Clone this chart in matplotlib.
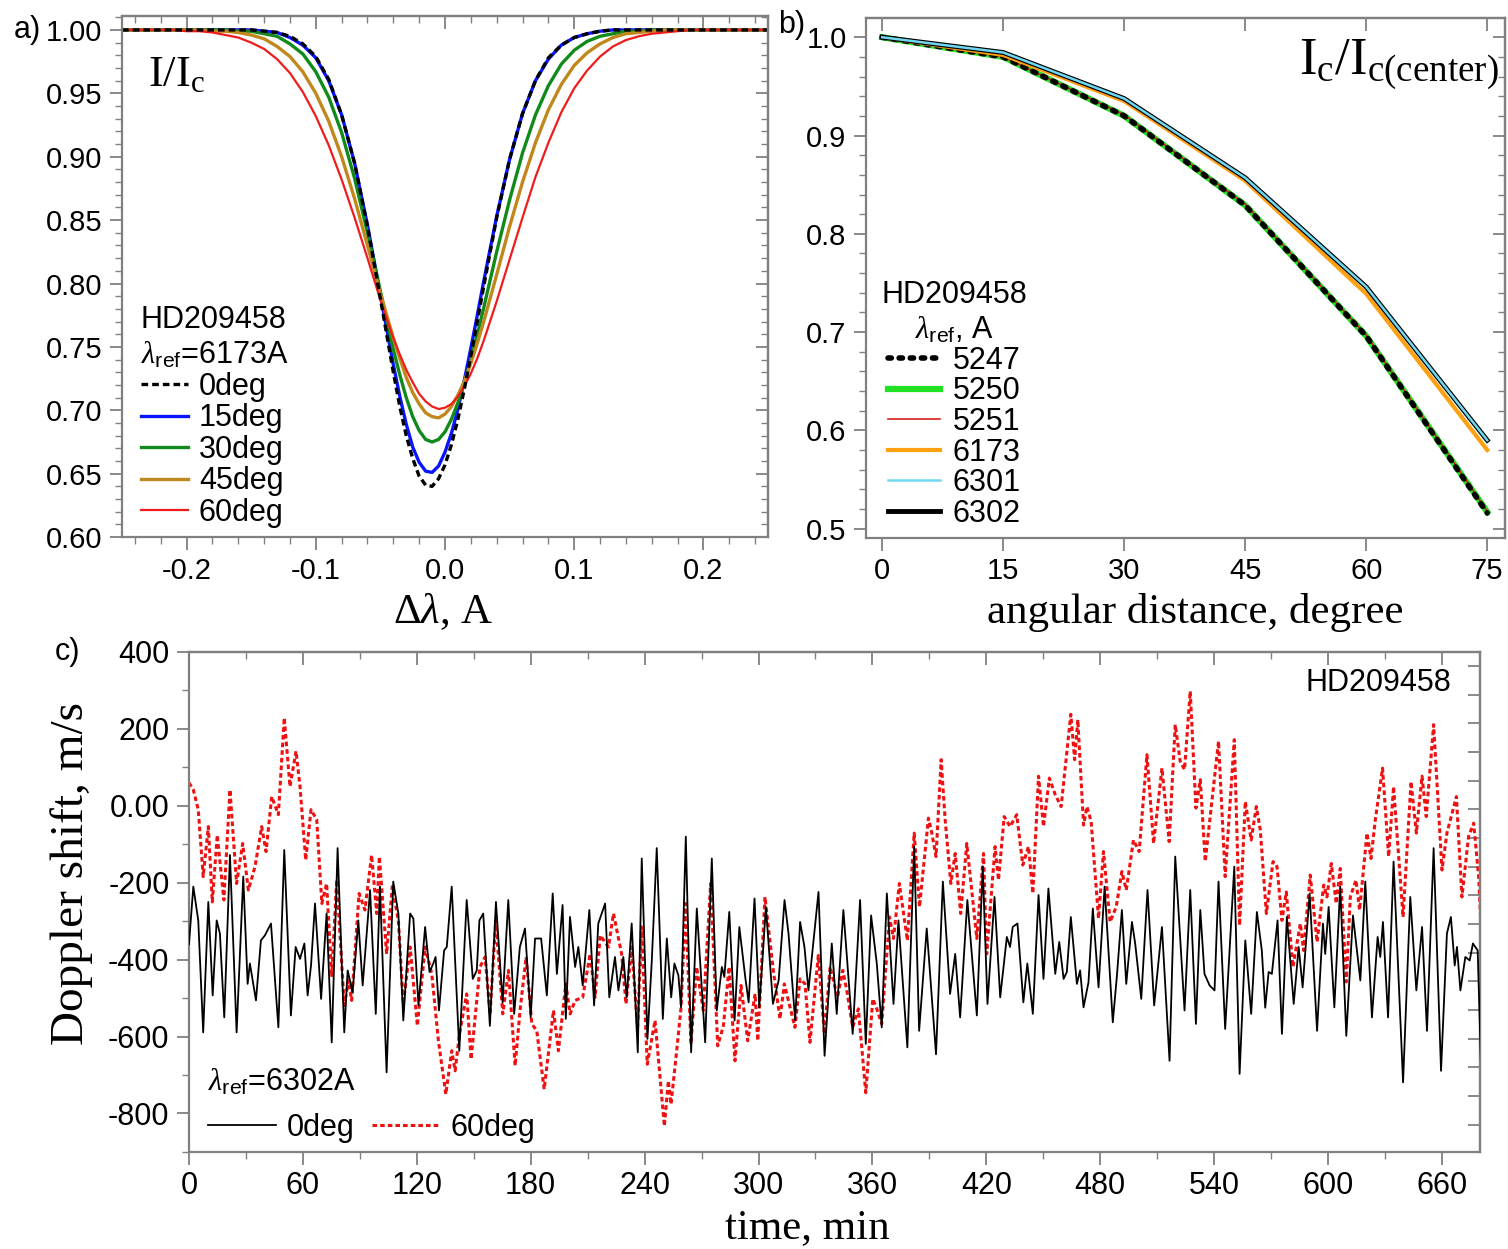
import numpy as np
import matplotlib
matplotlib.use("Agg")
import matplotlib.pyplot as plt
from matplotlib.ticker import MultipleLocator, FormatStrFormatter, FuncFormatter

# ---------------- panel a: line profiles, 6173 A ----------------
dlam = np.linspace(-0.25, 0.25, 51)
prof_0deg = [1.000] * 11 + [
    0.999, 0.998, 0.995, 0.989, 0.979, 0.961, 0.933, 0.895, 0.845, 0.788,
    0.730, 0.680, 0.648, 0.640, 0.657, 0.693, 0.743, 0.798, 0.852, 0.898,
    0.934, 0.960, 0.978, 0.988, 0.994, 0.997, 0.999] + [1.000] * 13
prof_15deg = [1.000] * 11 + [
    0.999, 0.998, 0.994, 0.988, 0.978, 0.960, 0.933, 0.895, 0.846, 0.791,
    0.736, 0.689, 0.659, 0.651, 0.667, 0.701, 0.749, 0.802, 0.853, 0.898,
    0.934, 0.960, 0.977, 0.988, 0.994, 0.997, 0.999] + [1.000] * 13
prof_30deg = [1.000] * 8 + [
    1.000, 0.999, 0.999, 0.997, 0.995, 0.989, 0.981, 0.967, 0.947, 0.919,
    0.883, 0.840, 0.794, 0.748, 0.710, 0.684, 0.675, 0.683, 0.706, 0.740,
    0.781, 0.825, 0.866, 0.903, 0.933, 0.956, 0.973, 0.984, 0.991, 0.995,
    0.997, 0.999, 0.999] + [1.000] * 10
prof_45deg = [1.000] * 6 + [
    1.000, 0.999, 0.999, 0.998, 0.996, 0.993, 0.987, 0.979, 0.967, 0.950,
    0.928, 0.900, 0.867, 0.830, 0.792, 0.757, 0.726, 0.705, 0.695, 0.697,
    0.712, 0.737, 0.770, 0.807, 0.845, 0.880, 0.911, 0.937, 0.957, 0.972,
    0.982, 0.989, 0.994, 0.997, 0.998, 0.999, 1.000] + [1.000] * 8
prof_60deg = [1.000] * 5 + [
    0.999, 0.999, 0.998, 0.996, 0.994, 0.990, 0.985, 0.977, 0.966, 0.951,
    0.932, 0.909, 0.882, 0.852, 0.820, 0.787, 0.757, 0.732, 0.713, 0.703,
    0.702, 0.711, 0.729, 0.755, 0.786, 0.819, 0.852, 0.884, 0.911, 0.935,
    0.954, 0.968, 0.979, 0.987, 0.992, 0.995, 0.997, 0.998, 0.999, 1.000] + [1.000] * 6

# extra readings in the line core (half-step)
dlam_core = [-0.035, -0.025, -0.015, -0.005, 0.005, 0.015, 0.025]
core_0deg = [0.703, 0.662, 0.641, 0.646, 0.673, 0.717, 0.770]
core_15deg = [0.711, 0.671, 0.652, 0.656, 0.682, 0.724, 0.775]
core_30deg = [0.728, 0.695, 0.677, 0.677, 0.693, 0.721, 0.760]
core_45deg = [0.741, 0.714, 0.698, 0.694, 0.703, 0.723, 0.753]
core_60deg = [0.744, 0.722, 0.707, 0.701, 0.705, 0.719, 0.741]

# ---------------- panel b: continuum centre-to-limb ----------------
angles = [0, 15, 30, 45, 60, 75]
ic_5247 = [1.000, 0.980, 0.920, 0.829, 0.696, 0.516]
ic_5250 = [1.000, 0.980, 0.920, 0.829, 0.696, 0.517]
ic_5251 = [1.000, 0.980, 0.921, 0.830, 0.697, 0.518]
ic_6173 = [1.000, 0.982, 0.935, 0.854, 0.739, 0.580]
ic_6301 = [1.000, 0.9845, 0.9376, 0.857, 0.746, 0.590]
ic_6302 = [1.000, 0.9845, 0.9376, 0.857, 0.746, 0.590]

# ---------------- panel c: Doppler shift time series, 6302 A ----------------
t_0deg = [
    0, 2.3, 4.9, 7.5, 10.2, 12.5, 14.6, 16.3, 18.6, 21.6, 25.1, 28.6, 30.9, 32.1, 35.3,
    37.9, 40.0, 43.2, 47.1, 50.2, 53.7, 56.2, 58.5, 60.8, 62.5, 64.3, 66.4, 69.6, 72.5,
    75.2, 78.3, 81.8, 83.6, 86.2, 89.2, 91.5, 95.4, 98.4, 100.6, 104.1, 107.6, 110.3,
    112.9, 116.5, 118.2, 120.9, 124.4, 126.7, 128.7, 129.9, 131.7, 134.4, 135.8, 138.4,
    142.4, 146.3, 149.5, 151.6, 153.0, 155.0, 158.5, 161.7, 165.2, 168.2, 171.3, 174.3,
    177.0, 180.0, 182.3, 185.5, 188.5, 191.6, 193.8, 196.8, 198.5, 200.7, 203.4, 205.1,
    207.4, 210.9, 213.4, 215.6, 219.2, 221.4, 224.4, 226.2, 228.8, 230.6, 233.2, 236.4,
    238.5, 241.5, 243.8, 246.4, 249.6, 251.7, 254.0, 255.7, 257.8, 259.2, 261.7, 264.5,
    267.5, 271.9, 275.4, 278.0, 280.7, 282.0, 284.6, 287.4, 289.9, 293.0, 294.8, 297.9,
    300.4, 303.9, 307.6, 310.6, 313.7, 315.8, 319.3, 321.9, 324.2, 326.3, 331.6, 334.8,
    338.6, 341.2, 344.7, 349.6, 353.5, 356.5, 359.3, 362.3, 364.9, 367.6, 371.1, 373.7,
    378.4, 382.0, 384.6, 388.6, 393.5, 397.1, 400.9, 403.6, 406.2, 410.0, 415.0, 418.1,
    420.6, 424.3, 427.3, 430.8, 432.5, 433.9, 436.4, 439.5, 441.6, 444.5, 447.5, 450.1,
    452.7, 456.3, 458.4, 460.7, 462.4, 464.5, 467.7, 469.4, 471.2, 473.8, 476.1, 479.1,
    482.3, 486.6, 488.8, 491.4, 493.7, 496.7, 498.4, 501.6, 504.9, 508.4, 512.5, 516.5,
    519.5, 524.4, 527.4, 530.4, 532.7, 534.9, 537.6, 540.2, 542.3, 545.8, 550.6, 553.4,
    556.4, 559.5, 562.5, 565.1, 566.9, 568.7, 570.4, 573.4, 575.7, 578.3, 581.9, 584.5,
    586.6, 590.3, 594.2, 597.3, 598.5, 600.3, 603.3, 606.4, 609.6, 613.1, 617.0, 619.6,
    623.1, 626.1, 627.5, 628.9, 631.6, 634.5, 639.5, 643.3, 646.5, 649.5, 652.1, 655.6,
    659.5, 662.6, 664.7, 666.7, 667.9, 669.7, 672.3, 674.6, 676.3, 678.8, 680.5]
v_0deg = [
    -360, -210, -298, -589, -250, -493, -298, -332, -550, -128, -589, -184, -463, -410, -506,
    -350, -337, -306, -576, -115, -545, -367, -398, -358, -493, -415, -254, -502, -280,
    -615, -110, -589, -428, -485, -298, -467, -219, -541, -210, -693, -197, -280,
    -558, -280, -293, -519, -315, -432, -410, -393, -532, -376, -367, -210,
    -637, -245, -450, -428, -298, -280, -572, -250, -511, -245, -541, -367,
    -319, -550, -345, -345, -493, -228, -437, -258, -554, -289, -419, -367,
    -467, -271, -519, -306, -254, -498, -393, -480, -393, -498, -306, -641,
    -137, -606, -402, -110, -554, -345, -498, -410, -441, -524, -80, -641,
    -267, -615, -137, -532, -419, -445, -276, -558, -315, -445, -511, -241,
    -524, -263, -515, -454, -245, -332, -558, -302, -367, -480, -224, -650,
    -358, -541, -271, -593, -245, -619, -285, -410, -576, -228, -515, -298,
    -628, -106, -585, -319, -646, -197, -489, -385, -550, -245, -545, -158,
    -515, -237, -498, -341, -367, -315, -306, -511, -410, -541, -232, -450,
    -215, -437, -354, -450, -432, -289, -463, -428, -524, -459, -267, -472,
    -210, -563, -441, -271, -463, -302, -358, -502, -219, -519, -315, -663,
    -132, -532, -219, -567, -271, -437, -467, -480, -197, -580, -158, -697,
    -350, -541, -276, -376, -525, -432, -437, -298, -593, -289, -515, -367,
    -472, -228, -585, -306, -385, -263, -524, -210, -598, -285, -454, -197,
    -550, -341, -393, -302, -550, -145, -719, -237, -480, -315, -585, -110,
    -689, -332, -289, -415, -367, -480, -393, -402, -358, -376, -665]

t_60deg = [
    0, 2.3, 4.9, 7.5, 10.2, 12.3, 14.9, 18.4, 21.6, 25.1, 28.3, 31.3, 34.8, 38.3, 40.6,
    43.6, 47.1, 50.2, 53.2, 56.4, 58.5, 61.5, 64.3, 67.3, 70.0, 72.5, 75.2, 77.8, 81.8,
    84.0, 85.7, 89.6, 92.7, 96.2, 98.9, 100.3, 104.1, 107.1, 110.3, 112.9, 116.5, 120.3,
    124.4, 127.9, 131.4, 135.3, 138.4, 140.2, 142.5, 146.3, 148.6, 153.3, 156.0, 158.6,
    161.6, 165.3, 168.3, 171.8, 174.4, 177.6, 180.6, 183.2, 187.1, 192.0, 194.6, 198.5,
    200.8, 203.4, 207.4, 211.3, 213.9, 216.6, 221.0, 223.6, 227.9, 230.2, 233.2, 236.3,
    238.4, 241.4, 245.5, 250.4, 252.5, 253.9, 256.9, 259.2, 261.6, 264.4, 267.4, 270.9,
    274.8, 278.5, 281.5, 284.5, 287.6, 290.8, 294.3, 298.2, 299.6, 303.4, 307.8, 311.3,
    313.6, 319.2, 321.9, 324.5, 327.1, 331.5, 334.7, 337.7, 341.6, 344.4, 346.5, 349.6,
    352.6, 356.5, 360.2, 362.3, 364.9, 369.0, 371.1, 374.2, 378.4, 382.0, 384.8, 389.5,
    391.3, 393.5, 396.2, 398.3, 401.3, 403.6, 406.5, 409.7, 415.0, 418.5, 420.2, 424.6,
    426.4, 429.4, 432.5, 436.0, 439.2, 442.2, 444.5, 447.5, 450.1, 453.2, 456.3, 459.4,
    464.5, 466.5, 468.2, 471.2, 473.0, 475.2, 479.1, 481.7, 485.2, 488.4, 491.4, 493.7,
    497.5, 500.5, 504.6, 508.1, 512.5, 516.3, 519.5, 522.1, 524.4, 527.4, 530.4, 532.7,
    535.3, 542.3, 545.8, 550.6, 553.4, 556.4, 559.5, 562.2, 564.3, 567.5, 571.0, 573.1,
    575.7, 578.0, 581.5, 585.4, 587.1, 590.6, 594.2, 597.7, 599.4, 601.7, 604.3, 606.4,
    609.6, 611.7, 614.7, 616.6, 620.5, 622.6, 624.9, 628.7, 631.9, 634.5, 639.5, 643.7,
    646.5, 649.5, 651.7, 655.6, 660.0, 662.6, 667.6, 670.5, 674.0, 676.7, 679.3, 681.1]
v_60deg = [
    60, 42, -10, -184, -54, -250, -76, -245, 42, -202, -98, -219, -158, -54, -119,
    24, -23, 229, 50, 142, 50, -141, -10, -36, -254, -202, -445, -193, -519,
    -454, -506, -228, -271, -128, -280, -132, -385, -210, -298, -515, -367, -572,
    -367, -437, -611, -750, -637, -689, -593, -489, -659, -419, -393, -541,
    -298, -541, -428, -676, -532, -393, -567, -585, -737, -532, -637, -463,
    -541, -506, -498, -385, -498, -337, -367, -280, -385, -515, -367, -576,
    -315, -672, -558, -833, -715, -776, -637, -524, -254, -619, -419, -532,
    -202, -624, -572, -419, -663, -467, -611, -489, -611, -237, -428, -554,
    -463, -576, -450, -463, -615, -389, -593, -419, -498, -428, -480, -576,
    -528, -746, -502, -528, -567, -289, -345, -202, -350, -71, -263, -32,
    -71, -132, 120, -36, -202, -124, -280, -98, -345, -124, -385, -106,
    -193, -28, -54, -23, -154, -106, -228, 77, -54, 72, 29, -2,
    238, 120, 224, -50, -2, -41, -293, -119, -302, -263, -171, -219,
    -89, -119, 133, -98, 98, -93, 211, 116, 94, 298, -6, 68,
    -145, 168, -184, 172, -311, 11, -89, -2, -63, -280, -145, -158,
    -298, -224, -419, -306, -376, -180, -354, -206, -237, -150, -254, -163,
    -458, -237, -193, -271, -71, -137, -36, 98, -132, 50, -289, 63,
    -71, 77, -28, 211, -167, -71, 24, -237, -80, -45, -184, -367]

GRAY = "#808080"

plt.rcParams.update({
    "font.family": ["Liberation Sans", "DejaVu Sans"],
    "mathtext.fontset": "custom",
    "mathtext.rm": "Liberation Serif",
    "mathtext.it": "Liberation Serif:italic",
    "mathtext.sf": "Liberation Sans",
    "axes.unicode_minus": False,
})
SERIF = ["Liberation Serif", "DejaVu Serif"]


def frame(ax, xmaj, xmin, ymaj, ymin, right_funcs=None, right_step=None):
    """gray box, ticks out on left/bottom and in on top/right"""
    ax.xaxis.set_major_locator(MultipleLocator(xmaj))
    ax.yaxis.set_major_locator(MultipleLocator(ymaj))
    if xmin:
        ax.xaxis.set_minor_locator(MultipleLocator(xmin))
    if ymin:
        ax.yaxis.set_minor_locator(MultipleLocator(ymin))
    ax.tick_params(which="both", direction="out", color=GRAY, labelcolor="black",
                   labelsize=21, pad=5)
    ax.tick_params(which="major", length=9, width=1.3)
    ax.tick_params(which="minor", length=5, width=1.0)
    for sp in ax.spines.values():
        sp.set_color(GRAY)
        sp.set_linewidth(1.6)

    top = ax.secondary_xaxis("top")
    top.xaxis.set_major_locator(MultipleLocator(xmaj))
    if xmin:
        top.xaxis.set_minor_locator(MultipleLocator(xmin))
    if right_funcs is not None:
        right = ax.secondary_yaxis("right", functions=right_funcs)
        right.yaxis.set_major_locator(MultipleLocator(right_step))
    else:
        right = ax.secondary_yaxis("right")
        right.yaxis.set_major_locator(MultipleLocator(ymaj))
        if ymin:
            right.yaxis.set_minor_locator(MultipleLocator(ymin))
    for sec in (top, right):
        sec.tick_params(which="both", direction="in", color=GRAY,
                        labeltop=False, labelright=False)
        sec.tick_params(which="major", length=9, width=1.3)
        sec.tick_params(which="minor", length=5, width=1.0)
        for sp in sec.spines.values():
            sp.set_color(GRAY)
            sp.set_linewidth(1.6)


fig = plt.figure(figsize=(15.08, 12.49), dpi=100)

# ---------- a ----------
x_all = np.concatenate([dlam, dlam_core])
order = np.argsort(x_all)
x_all = x_all[order]


def merged(prof, core):
    return np.concatenate([prof, core])[order]


ax_a = fig.add_axes([0.0809, 0.570, 0.4284, 0.4172])
l15, = ax_a.plot(x_all, merged(prof_15deg, core_15deg), color="#0a14ff", lw=2.4, label="15deg")
l30, = ax_a.plot(x_all, merged(prof_30deg, core_30deg), color="#118a1c", lw=2.4, label="30deg")
l45, = ax_a.plot(x_all, merged(prof_45deg, core_45deg), color="#c0881c", lw=2.4, label="45deg")
l60, = ax_a.plot(x_all, merged(prof_60deg, core_60deg), color="#f01c1c", lw=1.6, label="60deg")
l0, = ax_a.plot(x_all, merged(prof_0deg, core_0deg), color="black", lw=2.4,
                ls=(0, (2, 1.2)), label="0deg")
ax_a.set_xlim(-0.25, 0.25)
ax_a.set_ylim(0.60, 1.011)
frame(ax_a, 0.1, 0.02, 0.05, 0.01)
ax_a.yaxis.set_major_formatter(FormatStrFormatter("%.2f"))
ax_a.xaxis.set_major_formatter(FormatStrFormatter("%.1f"))
ax_a.set_xlabel(r"$\mathrm{\Delta}\lambda$, A", family=SERIF, fontsize=31)
ax_a.xaxis.set_label_coords(0.497, -0.104)
ax_a.text(0.04, 0.887, r"I/I$_\mathrm{c}$", transform=ax_a.transAxes, family=SERIF,
          fontsize=32, va="center", ha="left")
ax_a.legend(handles=[l0, l15, l30, l45, l60], loc="lower left",
            bbox_to_anchor=(0.015, 0.0), frameon=False, fontsize=22,
            title="HD209458\n$\\lambda_{\\mathsf{ref}}$=6173A", title_fontsize=22,
            alignment="left", handlelength=1.55, handletextpad=0.35,
            labelspacing=0.05, borderpad=0.2, borderaxespad=0.1)
fig.text(0.009, 0.976, "a)", fontsize=22, va="center")

# ---------- b ----------
ax_b = fig.add_axes([0.5743, 0.5693, 0.4237, 0.4163])
b1, = ax_b.plot(angles, ic_5250, color="#22e022", lw=4.5, label="5250")
b2, = ax_b.plot(angles, ic_5251, color="#d42020", lw=1.2, label="5251")
b0, = ax_b.plot(angles, ic_5247, color="black", lw=4.0, ls=(0, (0.6, 1.4)),
                dash_capstyle="round", label="5247")
b3, = ax_b.plot(angles, ic_6173, color="#ffa010", lw=3.0, label="6173")
b5, = ax_b.plot(angles, ic_6302, color="black", lw=3.5, label="6302")
b4, = ax_b.plot(angles, ic_6301, color="#70d8f0", lw=1.8, label="6301")
ax_b.set_xlim(-2, 77.2)
ax_b.set_ylim(0.4906, 1.0196)
frame(ax_b, 15, None, 0.1, 0.02)
ax_b.yaxis.set_major_formatter(FormatStrFormatter("%.1f"))
ax_b.set_xlabel("angular distance, degree", family=SERIF, fontsize=31)
ax_b.xaxis.set_label_coords(0.515, -0.106)
ax_b.text(0.990, 0.91, r"I$_\mathrm{c}$/I$_\mathrm{c(center)}$", transform=ax_b.transAxes,
          family=SERIF, fontsize=38, va="center", ha="right")
leg_b = ax_b.legend(handles=[b0, b1, b2, b3, b4, b5], loc="lower left",
                    bbox_to_anchor=(0.01, 0.0), frameon=False, fontsize=22,
                    title="HD209458\n$\\lambda_{\\mathsf{ref}}$, A", title_fontsize=22,
                    handlelength=1.7, handletextpad=0.4, labelspacing=0.02,
                    borderpad=0.2, borderaxespad=0.1)
leg_b.get_title().set_multialignment("center")
fig.text(0.516, 0.980, "b)", fontsize=22, va="center")

# ---------- c ----------
ax_c = fig.add_axes([0.1253, 0.0777, 0.8561, 0.4003])
c60, = ax_c.plot(t_60deg, v_60deg, color="#ee1111", lw=2.2, ls=(0, (1.5, 1.0)),
                 label="60deg", zorder=2)
c0, = ax_c.plot(t_0deg, v_0deg, color="black", lw=1.3, label="0deg", zorder=3)
ax_c.set_xlim(0, 680)
ax_c.set_ylim(-900, 400)
frame(ax_c, 60, 30, 200, 100,
      right_funcs=(lambda v: (v - 364.0) / 74.6, lambda u: u * 74.6 + 364.0),
      right_step=1)
ax_c.yaxis.set_major_formatter(
    FuncFormatter(lambda v, p: "0.00" if abs(v) < 1e-9 else "%d" % v))
ax_c.tick_params(labelsize=22)
ax_c.set_xlabel("time, min", family=SERIF, fontsize=31)
ax_c.xaxis.set_label_coords(0.479, -0.114)
ax_c.set_ylabel("Doppler shift, m/s", family=SERIF, fontsize=34)
ax_c.yaxis.set_label_coords(-0.074, 0.556)
ax_c.text(0.978, 0.938, "HD209458", transform=ax_c.transAxes, fontsize=22,
          ha="right", va="center")
ax_c.legend(handles=[c0, c60], loc="lower left", ncol=2,
            bbox_to_anchor=(0.008, 0.0), frameon=False, fontsize=22,
            title="$\\lambda_{\\mathsf{ref}}$=6302A", title_fontsize=22,
            alignment="left", handlelength=2.2, handletextpad=0.35,
            columnspacing=0.6, borderpad=0.2, borderaxespad=0.1)
fig.text(0.036, 0.478, "c)", fontsize=22, va="center")

fig.savefig("out.png", dpi=100)
